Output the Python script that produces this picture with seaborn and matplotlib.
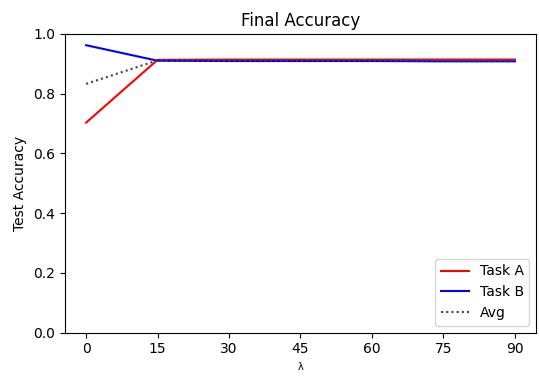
import matplotlib
matplotlib.use("Agg")
import matplotlib.pyplot as plt
import seaborn as sns
import pandas as pd

lambdas = [0, 15, 30, 45, 60, 75, 90]
task_a = [0.703, 0.913, 0.914, 0.914, 0.914, 0.914, 0.914]
task_b = [0.962, 0.910, 0.909, 0.909, 0.909, 0.908, 0.908]
avg = [(a + b) / 2 for a, b in zip(task_a, task_b)]
series_names = ["Task A", "Task B", "Avg"]

df = pd.DataFrame({
    "lambda": lambdas * 3,
    "acc": task_a + task_b + avg,
    "series": [series_names[0]] * 7 + [series_names[1]] * 7 + [series_names[2]] * 7,
})

fig, ax = plt.subplots(figsize=(5.39, 3.76), dpi=100)
sns.lineplot(data=df, x="lambda", y="acc", hue="series", style="series",
             palette={"Task A": "red", "Task B": "blue", "Avg": "#444444"},
             dashes={"Task A": "", "Task B": "", "Avg": (1, 1.5)},
             linewidth=1.5, ax=ax)
ax.set_ylim(0, 1.0)
ax.set_xticks(lambdas)
ax.set_title("Final Accuracy")
ax.set_xlabel("λ", fontsize=7)
ax.set_ylabel("Test Accuracy")
leg = ax.legend(loc="lower right")
fig.subplots_adjust(left=0.12, right=0.995, top=0.91, bottom=0.115)
fig.savefig("out.png", dpi=100)
